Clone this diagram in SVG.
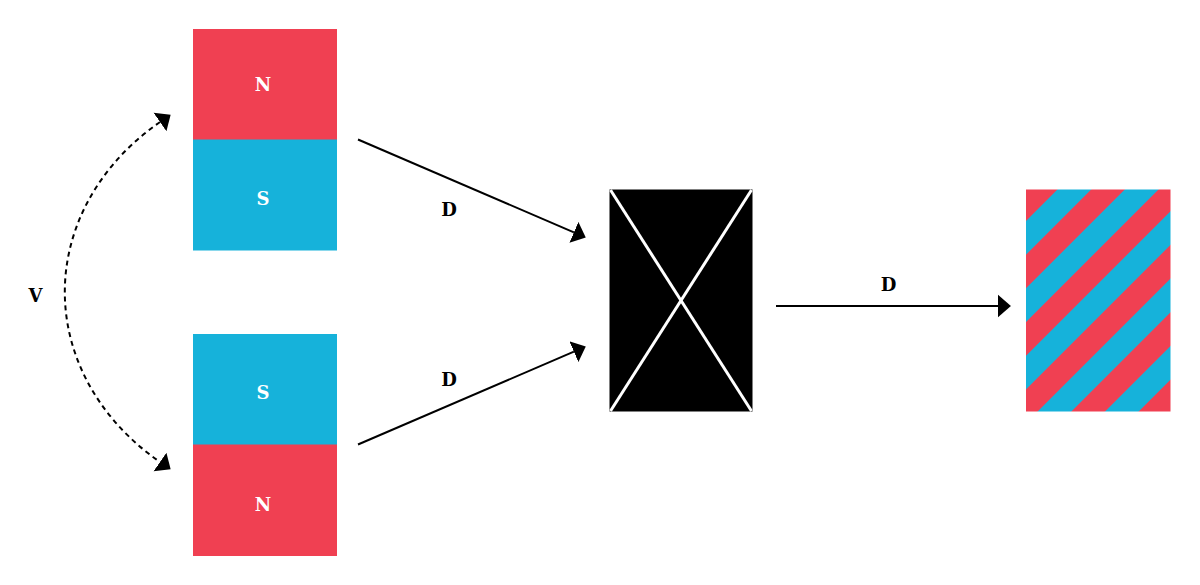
<svg xmlns="http://www.w3.org/2000/svg" width="1200" height="585" viewBox="0 0 1200 585">
<style>
.red{fill:#f04052}
.blue{fill:#16b2da}
.lbl{font-family:"DejaVu Serif","Liberation Serif",serif;font-size:18px;font-weight:bold;text-anchor:middle}
.pole{fill:#ffffff}
.edge{fill:none;stroke:#000;stroke-width:2}
.dash{stroke-dasharray:5,4}
</style>
<defs>
<marker id="ah" markerUnits="userSpaceOnUse" markerWidth="14" markerHeight="24" viewBox="0 -11 13 22" refX="0" refY="0" orient="auto-start-reverse">
<path d="M0,-10.5 L12,0 L0,10.5 Z" fill="#000"/>
</marker>
<pattern id="stripes" patternUnits="userSpaceOnUse" x="0" y="0" width="47.66" height="47.66" patternTransform="rotate(45)">
<rect x="0" y="0" width="23.83" height="47.66" class="red"/>
<rect x="23.83" y="0" width="23.83" height="47.66" class="blue"/>
</pattern>
</defs>
<g id="magnet-top">
<rect x="193" y="29" width="144" height="111" class="red"/>
<rect x="193" y="139.5" width="144" height="111" class="blue"/>
<text x="263" y="90.5" class="lbl pole">N</text>
<text x="263" y="204.5" class="lbl pole">S</text>
</g>
<g id="magnet-bottom">
<rect x="193" y="334" width="144" height="111" class="blue"/>
<rect x="193" y="444.5" width="144" height="111.5" class="red"/>
<text x="263" y="398.5" class="lbl pole">S</text>
<text x="263" y="511" class="lbl pole">N</text>
</g>
<g id="mixer">
<rect x="609.5" y="189.5" width="143" height="222" fill="#000"/>
<line x1="610.5" y1="190" x2="751.5" y2="411" stroke="#fff" stroke-width="3"/>
<line x1="751.5" y1="190" x2="610.5" y2="411" stroke="#fff" stroke-width="3"/>
</g>
<g id="result">
<rect x="1026" y="189.5" width="144.5" height="222" fill="url(#stripes)"/>
</g>
<g id="connectors">
<path class="edge dash" d="M160,122 A260.6,220 0 0,0 160,462" marker-start="url(#ah)" marker-end="url(#ah)"/>
<path class="edge" d="M358,139.5 L573.9,232.3" marker-end="url(#ah)"/>
<path class="edge" d="M358,444.5 L573.9,351.7" marker-end="url(#ah)"/>
<path class="edge" d="M776,306 L998,306" marker-end="url(#ah)"/>
<text x="35.5" y="301.5" class="lbl">V</text>
<text x="449" y="215.5" class="lbl">D</text>
<text x="449" y="385.5" class="lbl">D</text>
<text x="888.5" y="290.5" class="lbl">D</text>
</g>
</svg>
